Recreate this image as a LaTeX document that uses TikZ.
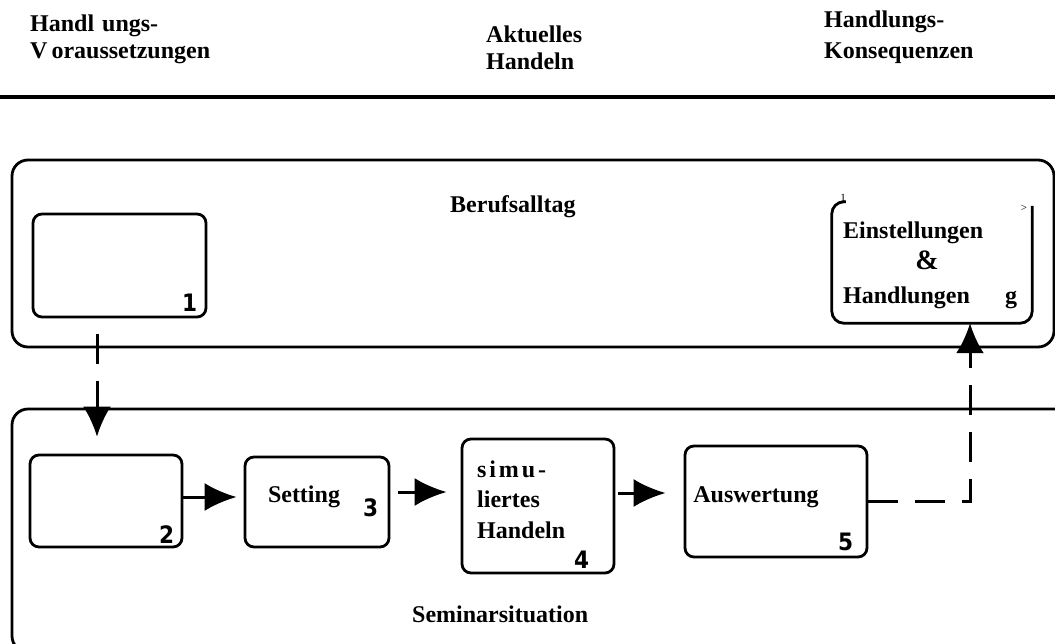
\documentclass[tikz,border=0pt]{standalone}
\usepackage{fontspec}
\setmainfont{Liberation Serif}
\newfontfamily\numfont{DejaVu Sans Condensed}
\usetikzlibrary{arrows.meta,calc}
\begin{document}
\begin{tikzpicture}[x=1pt,y=-1pt,
  txt/.style={font=\fontsize{24}{28}\selectfont\bfseries, inner sep=0pt},
  num/.style={font=\numfont\fontsize{24}{24}\selectfont\bfseries, inner sep=0pt},
  tiny/.style={font=\fontsize{11}{11}\selectfont, inner sep=0pt},
  box/.style={draw, line width=2.8pt, rounded corners=9pt, inner sep=0pt},
  frame/.style={line width=2.8pt, rounded corners=16pt},
  flow/.style={line width=3pt, -{Latex[length=32pt,width=28pt]}},
  dflow/.style={line width=3pt, dash pattern=on 30pt off 17pt, -{Latex[length=30pt,width=28pt]}},
]
\useasboundingbox (0,0) rectangle (1055,643);
\clip (0,0) rectangle (1055,643);

% headers
\node[txt, anchor=base west] (h1a) at (30,31) {Handl\hspace{8pt}ungs-};
\node[txt, anchor=base west] (h1b) at (30,58) {V\hspace{4pt}oraussetzungen};
\node[txt, anchor=base west] (h2a) at (486,42) {Aktuelles};
\node[txt, anchor=base west] (h2b) at (486,69) {Handeln};
\node[txt, anchor=base west] (h3a) at (824,27) {Handlungs-};
\node[txt, anchor=base west] (h3b) at (824,58) {Konsequenzen};
\draw[line width=3.5pt] (0,97) -- (1055,97);

% frames
\draw[frame] (12,160) rectangle (1054,347);
\draw[frame] (12,409) rectangle (1080,652);
\node[txt, anchor=base west] (beruf) at (450,212) {Berufsalltag};
\node[txt, anchor=base west] (semi) at (412,622) {Seminarsituation};

% boxes
\node[box, minimum width=173pt, minimum height=103pt] (b1) at (119.5,265.5) {};
\node[num, anchor=south east] (n1) at ([xshift=-10pt,yshift=7pt]b1.south east) {1};

\node[box, minimum width=152pt, minimum height=92pt] (b2) at (106,501) {};
\node[num, anchor=south east] (n2) at ([xshift=-9pt,yshift=5pt]b2.south east) {2};

\node[box, minimum width=144pt, minimum height=90pt] (b3) at (317,502) {};
\node[txt] (t3) at (304,497) {Setting};
\node[num, anchor=east] (n3) at ([xshift=-12pt,yshift=-6pt]b3.east) {3};

\node[box, minimum width=152pt, minimum height=134pt] (b4) at (538,506) {};
\node[txt, anchor=base west] (t4a) at (477,477) {\addfontfeature{LetterSpace=12}simu-};
\node[txt, anchor=base west] (t4b) at (477,507) {liertes};
\node[txt, anchor=base west] (t4c) at (477,538) {Handeln};
\node[num, anchor=south east] (n4) at ([xshift=-26pt,yshift=6pt]b4.south east) {4};

\node[box, minimum width=182pt, minimum height=111pt] (b5) at (776,501.5) {};
\node[txt] (t5) at (756,497) {Auswertung};
\node[num, anchor=south east] (n5) at ([xshift=-15pt,yshift=7pt]b5.south east) {5};

\node[minimum width=200pt, minimum height=121pt, inner sep=0pt] (b6) at (932,262.5) {};
\draw[line width=2.8pt, rounded corners=12pt]
  ([xshift=14pt]b6.north west) -- (b6.north west) -- (b6.south west)
  -- (b6.south east) -- ([yshift=-4pt]b6.north east);
\node[tiny] (m6a) at (843,198) {1};
\node[tiny] (m6b) at (1024,208) {>};
\node[txt, anchor=base west] (t6a) at (843,238) {Einstellungen};
\node[txt, anchor=base, font=\fontsize{28}{28}\selectfont\bfseries] (t6b) at (927,269) {\&};
\node[txt, anchor=base west] (t6c) at (843,303) {Handlungen};
\node[txt, anchor=base west] (t6d) at (1005,303) {g};

% connectors
\draw[dflow] ([xshift=-22.5pt,yshift=-16pt]b1.south) -- ([xshift=-9pt,yshift=17pt]b2.north);
\draw[flow, shorten >=7pt] ([yshift=4pt]b2.east) -- ([yshift=4pt]b2.east -| b3.west);
\draw[flow, shorten <=8pt, shorten >=14pt] ([yshift=10pt]b3.east) -- ([yshift=10pt]b3.east -| b4.west);
\draw[flow, shorten <=3pt, shorten >=18pt] ([yshift=13pt]b4.east) -- ([yshift=13pt]b4.east -| b5.west);
\draw[dflow] (b5.east) -| ([xshift=38pt]b6.south);
\end{tikzpicture}
\end{document}
